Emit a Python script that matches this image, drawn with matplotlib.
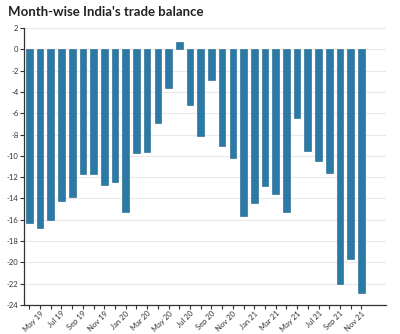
import matplotlib
matplotlib.use("Agg")
import matplotlib.pyplot as plt
import numpy as np

plt.rcParams["font.family"] = ["Lato", "DejaVu Sans"]

months = ["Apr 19", "May 19", "Jun 19", "Jul 19", "Aug 19", "Sep 19", "Oct 19", "Nov 19",
          "Dec 19", "Jan 20", "Feb 20", "Mar 20", "Apr 20", "May 20", "Jun 20", "Jul 20",
          "Aug 20", "Sep 20", "Oct 20", "Nov 20", "Dec 20", "Jan 21", "Feb 21", "Mar 21",
          "Apr 21", "May 21", "Jun 21", "Jul 21", "Aug 21", "Sep 21", "Oct 21", "Nov 21"]
balance = [-16.3, -16.8, -16.0, -14.2, -13.9, -11.7, -11.75, -12.75,
           -12.5, -15.3, -9.7, -9.6, -6.9, -3.6, 0.66, -5.2,
           -8.15, -2.9, -9.1, -10.2, -15.66, -14.4, -12.85, -13.6,
           -15.25, -6.47, -9.55, -10.5, -11.6, -22.0, -19.66, -22.9]
yticks = list(range(-24, 3, 2))

fig = plt.figure(figsize=(4.0, 3.34), dpi=100)
ax = fig.add_axes([0.06, 0.087, 0.905, 0.829])

x = np.arange(len(months))
ax.bar(x, balance, width=0.62, color="#2b79a6", edgecolor="#1f6088", linewidth=0.4, zorder=3)

ax.set_xlim(-0.5, 33.3)
ax.set_ylim(-24, 2)
ax.set_yticks(yticks)
ax.set_yticklabels([str(v) for v in yticks])
ax.set_xticks(x)
ax.set_xticklabels([m if i % 2 == 1 else "" for i, m in enumerate(months)],
                   rotation=45, ha="right", rotation_mode="anchor")

ax.grid(axis="y", color="#e8e8e8", linewidth=0.8, zorder=0)
for s in ["top", "right"]:
    ax.spines[s].set_visible(False)
for s in ["left", "bottom"]:
    ax.spines[s].set_color("#333333")
    ax.spines[s].set_linewidth(0.9)
ax.tick_params(axis="both", labelsize=5.5, colors="#333333", length=3, width=0.8, pad=1)
ax.tick_params(axis="x", pad=0.5)

fig.text(0.02, 0.965, "Month-wise India's trade balance", fontsize=9.5, fontweight="bold",
         color="#222222", va="center", ha="left")

fig.savefig("out.png", dpi=100, facecolor="white")
